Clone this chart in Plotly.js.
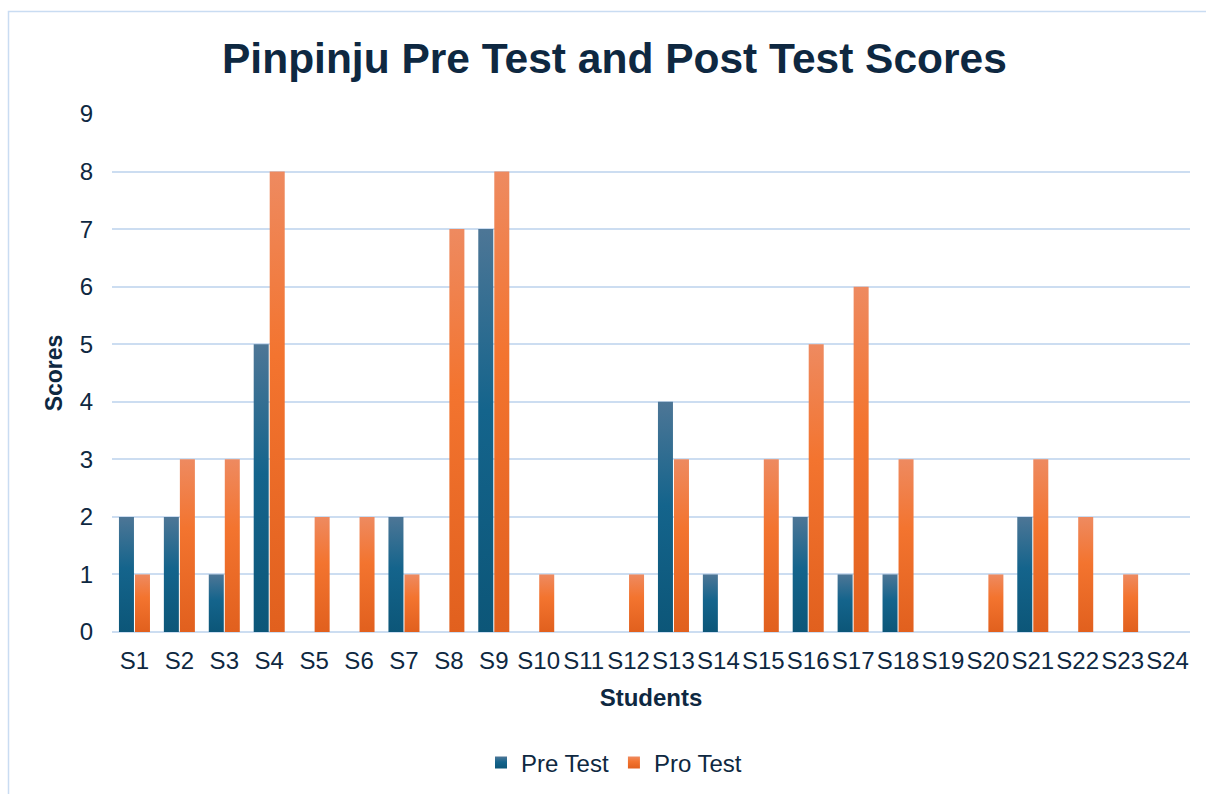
<!DOCTYPE html>
<html>
<head>
<meta charset="utf-8">
<script src="https://cdn.plot.ly/plotly-3.0.1.min.js"></script>
<style>
  html, body { margin: 0; padding: 0; background: #ffffff; }
  #chart { width: 1206px; height: 794px; }
</style>
</head>
<body>
<div id="chart"></div>
<script>
const students = ["S1","S2","S3","S4","S5","S6","S7","S8","S9","S10","S11","S12","S13","S14","S15","S16","S17","S18","S19","S20","S21","S22","S23","S24"];
const preTest  = [2,2,1,5,0,0,2,0,7,0,0,0,4,1,0,2,1,1,0,0,2,0,0,0];
const postTest = [1,3,3,8,2,2,1,7,8,1,0,1,3,0,3,5,6,3,0,1,3,2,1,0];
const yTicks = [0,1,2,3,4,5,6,7,8,9];

const textColor = '#0E2841';
const gridColor = '#CCDDF1';
const font = 'Liberation Sans, Arial, sans-serif';

const traces = [
  { type: 'bar', name: 'Pre Test', x: students, y: preTest,
    marker: { color: '#12618A', line: { width: 0 } } },
  { type: 'bar', name: 'Pro Test', x: students, y: postTest,
    marker: { color: '#F07230', line: { width: 0 } } }
];

const layout = {
  width: 1206, height: 794,
  paper_bgcolor: '#ffffff', plot_bgcolor: '#ffffff',
  margin: { l: 112, r: 16, t: 114, b: 162 },
  font: { family: font, color: textColor, size: 24 },
  title: {
    text: '<b>Pinpinju Pre Test and Post Test Scores</b>',
    font: { family: font, size: 42.5, color: textColor },
    x: 0.5095, xref: 'container', xanchor: 'center',
    y: 1 - 58/794, yref: 'container', yanchor: 'middle'
  },
  barmode: 'group',
  bargap: 0.287,
  bargroupgap: 0.0625,
  xaxis: {
    type: 'category',
    showgrid: false, zeroline: false, showline: false,
    ticks: '', ticklabelstandoff: 12,
    tickfont: { family: font, size: 24, color: textColor },
    title: { text: '<b>Students</b>', font: { family: font, size: 24, color: textColor }, standoff: 16 },
    automargin: false
  },
  yaxis: {
    range: [0, 9],
    tickvals: yTicks,
    showgrid: true, gridcolor: gridColor, gridwidth: 2,
    zeroline: true, zerolinecolor: gridColor, zerolinewidth: 2,
    showline: false, ticks: '', ticklabelstandoff: 18,
    tickfont: { family: font, size: 24, color: textColor },
    title: { text: '<b>Scores</b>', font: { family: font, size: 23, color: textColor }, standoff: 10 },
    automargin: false
  },
  showlegend: true,
  legend: {
    orientation: 'h',
    xref: 'container', yref: 'container',
    x: 614/1206, xanchor: 'center',
    y: 1 - 763/794, yanchor: 'middle',
    font: { family: font, size: 24, color: textColor },
    itemwidth: 30,
    traceorder: 'normal'
  },
  shapes: [{
    type: 'rect', xref: 'paper', yref: 'paper',
    x0: (8.5 - 112) / 1078, x1: (1215 - 112) / 1078,
    y0: (632 - 810) / 518, y1: (632 - 11.5) / 518,
    line: { color: '#C9DCF2', width: 1.5 }, fillcolor: 'rgba(0,0,0,0)',
    layer: 'below'
  }]
};

Plotly.newPlot('chart', traces, layout, { staticPlot: true, displayModeBar: false }).then(function (gd) {
  const svg = gd.querySelector('.main-svg');
  const ns = 'http://www.w3.org/2000/svg';
  const defs = document.createElementNS(ns, 'defs');
  function grad(id, stops) {
    const g = document.createElementNS(ns, 'linearGradient');
    g.setAttribute('id', id);
    g.setAttribute('x1', '0'); g.setAttribute('y1', '0');
    g.setAttribute('x2', '0'); g.setAttribute('y2', '1');
    stops.forEach(function (s) {
      const st = document.createElementNS(ns, 'stop');
      st.setAttribute('offset', s[0]);
      st.setAttribute('stop-color', s[1]);
      g.appendChild(st);
    });
    defs.appendChild(g);
  }
  grad('gradPre', [['0%', '#4D7696'], ['45%', '#14648C'], ['100%', '#0C5678']]);
  grad('gradPost', [['0%', '#EE8A60'], ['40%', '#F3742F'], ['100%', '#E1601E']]);
  svg.insertBefore(defs, svg.firstChild);
  const ids = ['gradPre', 'gradPost'];
  gd.querySelectorAll('.barlayer .trace').forEach(function (t, i) {
    t.querySelectorAll('path').forEach(function (p) { p.style.fill = 'url(#' + ids[i] + ')'; });
  });
  gd.querySelectorAll('.legend .traces').forEach(function (t, i) {
    t.querySelectorAll('.legendpoints path').forEach(function (p) { p.style.fill = 'url(#' + ids[i] + ')'; });
  });
});
</script>
</body>
</html>
